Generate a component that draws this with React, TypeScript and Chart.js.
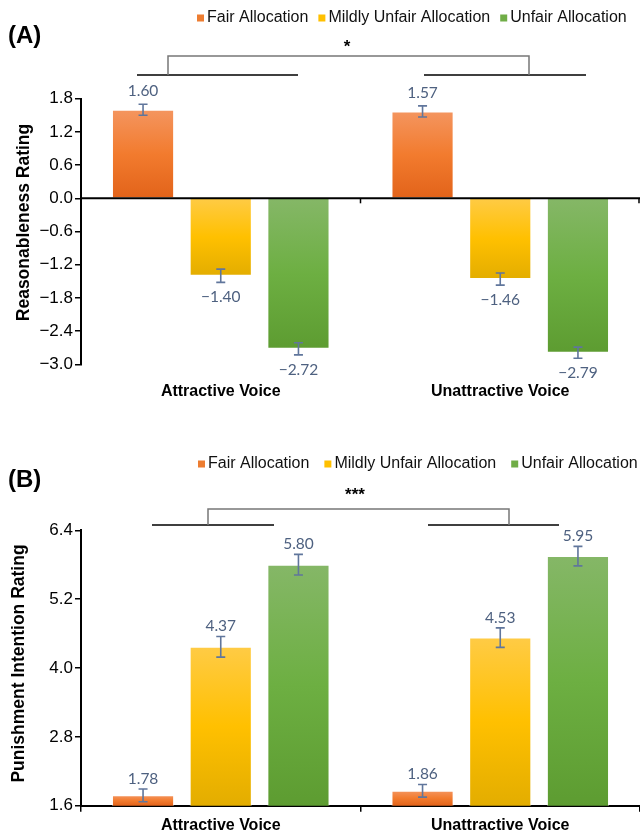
import React, { useEffect, useRef } from 'react';
import { Chart, registerables } from 'chart.js';

Chart.register(...registerables);

// ---------- data ----------
const CATEGORIES = ['Attractive Voice', 'Unattractive Voice'];
const SERIES = ['Fair Allocation', 'Mildly Unfair Allocation', 'Unfair Allocation'];

// Panel A: Reasonableness rating
const A_FAIR = [1.6, 1.57];
const A_MILD = [-1.4, -1.46];
const A_UNFAIR = [-2.72, -2.79];
const A_FAIR_SE = [0.1, 0.1];
const A_MILD_SE = [0.12, 0.11];
const A_UNFAIR_SE = [0.11, 0.1];
const A_TICKS = [-3.0, -2.4, -1.8, -1.2, -0.6, 0.0, 0.6, 1.2, 1.8];

// Panel B: Punishment intention rating
const B_FAIR = [1.78, 1.86];
const B_MILD = [4.37, 4.53];
const B_UNFAIR = [5.8, 5.95];
const B_FAIR_SE = [0.11, 0.11];
const B_MILD_SE = [0.18, 0.17];
const B_UNFAIR_SE = [0.18, 0.17];
const B_TICKS = [1.6, 2.8, 4.0, 5.2, 6.4];

// ---------- styles ----------
const SANS = '"Liberation Sans", Arial, sans-serif';
const SOLID = ['#ED7D31', '#FFC000', '#70AD47'];
const GRADS = [
  ['#F4955F', '#F27B2E', '#E2631A'],
  ['#FFCB45', '#FFC000', '#E3AD00'],
  ['#85B767', '#6DAF42', '#5D9C31'],
];

const minus = (s: string) => s.replace('-', '\u2212');

function gradFill(i: number) {
  return (c: any) => {
    const chart = c.chart;
    const ca = chart.chartArea;
    const ys = chart.scales && chart.scales.y;
    if (!ca || c.type !== 'data' || !ys) return SOLID[i];
    const v = c.raw as number;
    const base = Math.max(0, ys.min);
    let p0 = ys.getPixelForValue(base);
    const p1 = ys.getPixelForValue(v);
    if (!isFinite(p0) || !isFinite(p1)) return SOLID[i];
    p0 = Math.min(Math.max(p0, ca.top), ca.bottom);
    const t = Math.min(p0, p1);
    const b = Math.max(p0, p1);
    if (b - t < 1) return SOLID[i];
    const g = chart.ctx.createLinearGradient(0, t, 0, b);
    g.addColorStop(0, GRADS[i][0]);
    g.addColorStop(0.5, GRADS[i][1]);
    g.addColorStop(1, GRADS[i][2]);
    return g;
  };
}

const decorPlugin = {
  id: 'decor',
  afterDatasetsDraw(chart: any, _args: any, opts: any) {
    const ctx = chart.ctx;
    const ca = chart.chartArea;
    const y = chart.scales.y;
    const x = chart.scales.x;
    ctx.save();
    if (opts.zeroLine) {
      const y0 = y.getPixelForValue(0);
      ctx.strokeStyle = '#000';
      ctx.lineWidth = 2;
      ctx.beginPath();
      ctx.moveTo(ca.left, y0);
      ctx.lineTo(ca.right, y0);
      ctx.stroke();
      ctx.lineWidth = 1.5;
      const n = chart.data.labels.length;
      for (let i = 1; i <= n; i++) {
        const bx = i < n ? (x.getPixelForValue(i - 1) + x.getPixelForValue(i)) / 2 : ca.right - 1;
        ctx.beginPath();
        ctx.moveTo(bx, y0);
        ctx.lineTo(bx, y0 + 5);
        ctx.stroke();
      }
    }
    chart.data.datasets.forEach((ds: any, di: number) => {
      const meta = chart.getDatasetMeta(di);
      meta.data.forEach((el: any, j: number) => {
        const v = ds.data[j];
        const e = opts.errors[di][j];
        const yt = y.getPixelForValue(v + e);
        const yb = y.getPixelForValue(v - e);
        ctx.strokeStyle = '#60769C';
        ctx.lineWidth = 1.6;
        ctx.beginPath();
        ctx.moveTo(el.x, yt);
        ctx.lineTo(el.x, yb);
        ctx.moveTo(el.x - 4.5, yt);
        ctx.lineTo(el.x + 4.5, yt);
        ctx.moveTo(el.x - 4.5, yb);
        ctx.lineTo(el.x + 4.5, yb);
        ctx.stroke();
        ctx.fillStyle = '#4E6180';
        ctx.font = '15.5px Lato, "Open Sans", sans-serif';
        ctx.textAlign = 'center';
        ctx.textBaseline = 'middle';
        const txt = minus(v.toFixed(2));
        if (v >= 0) ctx.fillText(txt, el.x, yt - opts.labelAbove);
        else ctx.fillText(txt, el.x, yb + 15);
      });
    });
    ctx.restore();
  },
  afterDraw(chart: any, _args: any, opts: any) {
    const ctx = chart.ctx;
    ctx.save();
    // panel letter
    ctx.fillStyle = '#000';
    ctx.font = `bold 24px ${SANS}`;
    ctx.textAlign = 'left';
    ctx.textBaseline = 'middle';
    ctx.fillText(opts.letter, 8, opts.letterY);
    // y-axis title
    ctx.save();
    ctx.translate(opts.yTitle.x, opts.yTitle.y);
    ctx.rotate(-Math.PI / 2);
    ctx.font = `bold 17.5px ${SANS}`;
    ctx.textAlign = 'center';
    ctx.fillText(opts.yTitle.text, 0, 0);
    ctx.restore();
    // legend
    let lx = opts.legend.x;
    const ly = opts.legend.y;
    ctx.font = `16px ${SANS}`;
    ctx.textAlign = 'left';
    SERIES.forEach((name, i) => {
      ctx.fillStyle = SOLID[i];
      ctx.fillRect(lx, ly - 3.5, 7, 7);
      lx += 7 + opts.legend.boxGap;
      ctx.fillStyle = '#111';
      ctx.fillText(name, lx, ly);
      lx += ctx.measureText(name).width + opts.legend.itemGap;
    });
    // significance bracket
    const b = opts.bracket;
    ctx.strokeStyle = '#000';
    ctx.lineWidth = 1.5;
    ctx.beginPath();
    ctx.moveTo(b.left[0], b.lineY);
    ctx.lineTo(b.left[1], b.lineY);
    ctx.moveTo(b.right[0], b.lineY);
    ctx.lineTo(b.right[1], b.lineY);
    ctx.stroke();
    ctx.strokeStyle = '#777';
    ctx.beginPath();
    ctx.moveTo(b.legs[0], b.lineY);
    ctx.lineTo(b.legs[0], b.topY);
    ctx.lineTo(b.legs[1], b.topY);
    ctx.lineTo(b.legs[1], b.lineY);
    ctx.stroke();
    ctx.fillStyle = '#000';
    ctx.font = `bold 17px ${SANS}`;
    ctx.textAlign = 'center';
    ctx.fillText(b.star, b.starX, b.starY);
    ctx.restore();
  },
};

function buildChart(canvas: HTMLCanvasElement, spec: any) {
  const datasets = spec.values.map((vals: number[], i: number) => ({
    label: SERIES[i],
    data: vals,
    backgroundColor: gradFill(i),
    borderColor: 'rgba(255,255,255,0.55)',
    borderWidth: 1,
    categoryPercentage: 0.834,
    barPercentage: 0.8,
  }));
  return new Chart(canvas, {
    type: 'bar',
    data: { labels: CATEGORIES, datasets },
    plugins: [decorPlugin],
    options: {
      responsive: false,
      animation: false,
      devicePixelRatio: 1,
      layout: { padding: { top: spec.padTop, left: 0, right: 0, bottom: 0 } },
      plugins: {
        legend: { display: false },
        tooltip: { enabled: false },
        decor: {
          errors: spec.errors,
          zeroLine: spec.zeroLine,
          labelAbove: spec.labelAbove,
          letter: spec.letter,
          letterY: spec.letterY,
          legend: spec.legend,
          bracket: spec.bracket,
          yTitle: spec.yTitle,
        },
      } as any,
      scales: {
        x: {
          grid: spec.xGrid,
          border: spec.xBorder,
          ticks: {
            color: '#000',
            font: { family: SANS, size: 16, weight: 'bold' },
            padding: spec.xPad,
            maxRotation: 0,
          },
          afterFit: (s: any) => {
            s.height = spec.xHeight;
          },
        },
        y: {
          min: spec.ticks[0],
          max: spec.ticks[spec.ticks.length - 1],
          afterBuildTicks: (s: any) => {
            s.ticks = spec.ticks.map((v: number) => ({ value: v }));
          },
          ticks: {
            color: '#000',
            font: { family: SANS, size: 17 },
            padding: 2,
            callback: (v: any) => minus(Number(v).toFixed(1)),
          },
          grid: { drawOnChartArea: false, drawTicks: true, tickLength: 6, color: '#000', lineWidth: 1.5 },
          border: { color: '#000', width: 2 },
          title: { display: false },
          afterFit: (s: any) => {
            s.width = 81;
          },
        },
      },
    } as any,
  });
}

export default function App() {
  const refA = useRef<HTMLCanvasElement>(null);
  const refB = useRef<HTMLCanvasElement>(null);

  useEffect(() => {
    const a = buildChart(refA.current!, {
      values: [A_FAIR, A_MILD, A_UNFAIR],
      errors: [A_FAIR_SE, A_MILD_SE, A_UNFAIR_SE],
      ticks: A_TICKS,
      yTitle: { text: 'Reasonableness Rating', x: 24.5, y: 222.5 },
      padTop: 98.7,
      xHeight: 51.7,
      xPad: 17.8,
      xGrid: { display: false, drawTicks: false },
      xBorder: { display: false },
      zeroLine: true,
      labelAbove: 13,
      letter: '(A)',
      letterY: 36,
      legend: { x: 197, y: 18, boxGap: 3, itemGap: 10 },
      bracket: { left: [137, 298], right: [424, 586], legs: [168, 529], lineY: 75, topY: 56, star: '*', starX: 347, starY: 47 },
    });
    const b = buildChart(refB.current!, {
      values: [B_FAIR, B_MILD, B_UNFAIR],
      errors: [B_FAIR_SE, B_MILD_SE, B_UNFAIR_SE],
      ticks: B_TICKS,
      yTitle: { text: 'Punishment Intention Rating', x: 19.5, y: 247.5 },
      padTop: 114.3,
      xHeight: 26.3,
      xPad: 4,
      xGrid: { display: true, drawOnChartArea: false, drawTicks: true, tickLength: 6, color: '#000', lineWidth: 1.5, offset: true },
      xBorder: { color: '#000', width: 2 },
      zeroLine: false,
      labelAbove: 10,
      letter: '(B)',
      letterY: 64,
      legend: { x: 198, y: 48, boxGap: 3, itemGap: 15 },
      bracket: { left: [152, 274], right: [428, 559], legs: [208, 509], lineY: 109, topY: 93, star: '***', starX: 355, starY: 79 },
    });
    return () => {
      a.destroy();
      b.destroy();
    };
  }, []);

  return (
    <div style={{ position: 'absolute', left: 0, top: 0, width: 640, height: 832, background: '#fff' }}>
      <canvas ref={refA} width={640} height={416} style={{ display: 'block', width: 640, height: 416 }} />
      <canvas ref={refB} width={640} height={416} style={{ display: 'block', width: 640, height: 416 }} />
    </div>
  );
}
